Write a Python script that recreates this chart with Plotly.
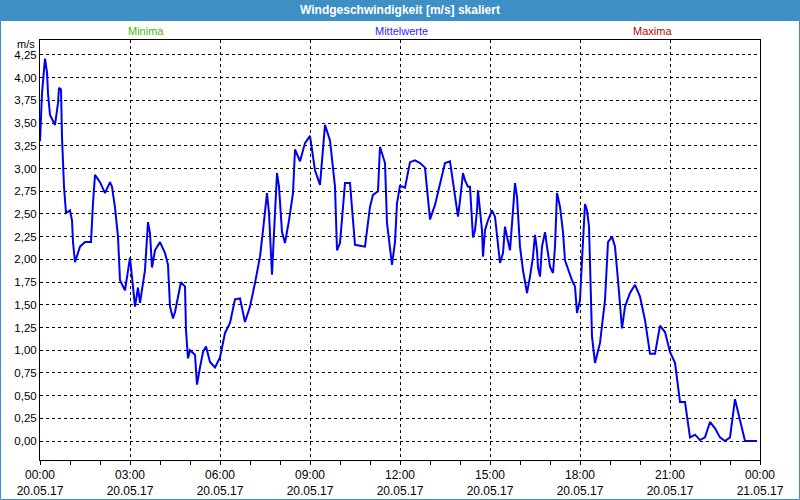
from datetime import datetime, timedelta
import plotly.graph_objects as go

# Windgeschwindigkeit, Mittelwerte am 20.05.17 (Minuten ab 00:00, Wert in m/s)
minutes = [0, 4, 10, 14, 16, 20, 30, 36, 38, 42, 44, 48, 52, 60, 64, 66, 70, 80, 90, 102,
           106, 110, 120, 130, 140, 144, 150, 156, 160, 170, 180, 184, 190, 196, 200, 210,
           216, 220, 224, 230, 240, 250, 256, 260, 266, 270, 282, 290, 292, 296, 300, 310,
           314, 320, 326, 332, 340, 350, 360, 370, 380, 390, 400, 410, 420, 430, 440, 446,
           454, 458, 464, 468, 474, 478, 484, 490, 498, 506, 510, 520, 530, 540, 550, 560,
           570, 580, 590, 594, 600, 610, 620, 630, 640, 650, 660, 666, 676, 680, 690, 694,
           704, 710, 714, 720, 730, 740, 750, 760, 770, 780, 790, 800, 810, 820, 830, 836,
           840, 846, 850, 856, 860, 862, 866, 870, 874, 876, 880, 884, 886, 890, 896, 904,
           910, 914, 920, 926, 930, 934, 940, 946, 950, 954, 960, 966, 974, 980, 986, 990,
           994, 996, 1000, 1004, 1010, 1014, 1020, 1026, 1030, 1034, 1040, 1046, 1050, 1064,
           1070, 1074, 1080, 1084, 1090, 1094, 1098, 1100, 1104, 1110, 1120, 1130, 1136,
           1144, 1150, 1156, 1164, 1170, 1180, 1190, 1200, 1210, 1220, 1230, 1240, 1250,
           1260, 1270, 1280, 1290, 1300, 1310, 1320, 1330, 1340, 1350, 1360, 1370, 1380,
           1390, 1400, 1410, 1434]
speed = [3.30, 3.83, 4.21, 4.06, 3.83, 3.59, 3.48, 3.72, 3.89, 3.87, 3.35, 2.80, 2.51, 2.54,
         2.43, 2.19, 1.97, 2.14, 2.19, 2.19, 2.62, 2.93, 2.85, 2.73, 2.85, 2.80, 2.57, 2.25,
         1.77, 1.66, 2.02, 1.81, 1.48, 1.69, 1.52, 1.88, 2.41, 2.29, 1.91, 2.10, 2.19, 2.07,
         1.94, 1.48, 1.35, 1.42, 1.75, 1.70, 1.22, 0.91, 1.00, 0.95, 0.62, 0.81, 0.98, 1.04,
         0.87, 0.81, 0.92, 1.19, 1.30, 1.56, 1.57, 1.31, 1.48, 1.74, 2.03, 2.32, 2.73, 2.51,
         1.83, 2.29, 2.95, 2.80, 2.30, 2.18, 2.43, 2.73, 3.21, 3.08, 3.28, 3.36, 2.98, 2.82,
         3.48, 3.31, 2.80, 2.10, 2.18, 2.84, 2.84, 2.16, 2.15, 2.14, 2.58, 2.71, 2.75, 3.24,
         3.06, 2.40, 1.94, 2.19, 2.62, 2.81, 2.79, 3.07, 3.09, 3.06, 3.01, 2.44, 2.60, 2.83,
         3.06, 3.08, 2.71, 2.47, 2.65, 2.95, 2.87, 2.80, 2.80, 2.58, 2.24, 2.32, 2.54, 2.76,
         2.54, 2.32, 2.03, 2.32, 2.43, 2.54, 2.47, 2.25, 1.96, 2.07, 2.36, 2.25, 2.10, 2.54,
         2.84, 2.69, 2.14, 1.88, 1.63, 1.81, 2.03, 2.27, 2.10, 1.91, 1.81, 2.14, 2.30, 2.14,
         1.92, 1.85, 2.14, 2.73, 2.58, 2.30, 1.99, 1.77, 1.70, 1.41, 1.55, 1.99, 2.61, 2.54,
         2.36, 1.96, 1.15, 0.86, 1.08, 1.55, 2.19, 2.25, 2.14, 1.77, 1.24, 1.48, 1.63, 1.72,
         1.59, 1.33, 0.96, 0.96, 1.27, 1.20, 0.98, 0.86, 0.43, 0.43, 0.04, 0.07, 0.01, 0.04,
         0.21, 0.14, 0.04, 0.00, 0.04, 0.46, 0.23, 0.00, 0.00]

tick_hours = [0, 3, 6, 9, 12, 15, 18, 21, 24]
y_ticks = [i * 0.25 for i in range(18)]

start = datetime(2017, 5, 20)
times = [start + timedelta(minutes=m) for m in minutes]
tick_vals = [start + timedelta(hours=h) for h in tick_hours]
tick_text = [f"{t:%H:%M}<br>{t:%d.%m.%y}" for t in tick_vals]

W, H = 800, 500
L, R, T, B = 40, 40, 40, 40
pw, ph = W - L - R, H - T - B


def px(x):
    return (x - L) / pw


def py(y):
    return (H - B - y) / ph


font = "Liberation Sans"

fig = go.Figure()
fig.add_trace(go.Scatter(x=times, y=speed, mode="lines",
                         line=dict(color="#0000f0", width=2), hoverinfo="skip"))

fig.update_xaxes(range=[start, start + timedelta(days=1)], automargin=False,
                 tickvals=tick_vals, ticktext=tick_text,
                 ticks="outside", ticklen=4, tickcolor="black",
                 minor=dict(dtick=3600000, ticks="outside", ticklen=4, tickcolor="black", showgrid=False),
                 showgrid=True, gridcolor="black", gridwidth=1, griddash="3px,3px",
                 showline=True, linecolor="black", linewidth=1, mirror=True,
                 tickfont=dict(family=font, size=12, color="black"), zeroline=False)
fig.update_yaxes(range=[-0.209, 4.415], automargin=False, tickvals=y_ticks, tickformat=".2f", ticks="",
                 showgrid=True, gridcolor="black", gridwidth=1, griddash="3px,3px",
                 showline=True, linecolor="black", linewidth=1, mirror=True,
                 tickfont=dict(family=font, size=11.5, color="black"), zeroline=False)

# Titelleiste und Rahmen
fig.add_shape(type="rect", xref="paper", yref="paper", x0=px(0), x1=px(800), y0=py(21), y1=py(0),
              fillcolor="#3d8fc6", line_width=0, layer="below")
fig.add_shape(type="rect", xref="paper", yref="paper", x0=px(0.5), x1=px(799.5), y0=py(499.5), y1=py(0.5),
              line=dict(color="#3d8fc6", width=1))

fig.add_annotation(text="<b>Windgeschwindigkeit [m/s] skaliert</b>", xref="paper", yref="paper",
                   x=px(400), y=py(10), xanchor="center", yanchor="middle", showarrow=False,
                   font=dict(family=font, size=12, color="white"))
for label, xpos, col in [("Minima", 146, "#3cc000"), ("Mittelwerte", 401, "#2a2aff"), ("Maxima", 652, "#c00000")]:
    fig.add_annotation(text=label, xref="paper", yref="paper", x=px(xpos), y=py(31),
                       xanchor="center", yanchor="middle",
                       showarrow=False, font=dict(family=font, size=11, color=col))
fig.add_annotation(text="m/s", xref="paper", yref="paper", x=px(37), y=py(44), xanchor="right",
                   yanchor="middle", showarrow=False, font=dict(family=font, size=11, color="black"))

fig.update_layout(width=W, height=H, margin=dict(l=L, r=R, t=T, b=B),
                  paper_bgcolor="white", plot_bgcolor="white", showlegend=False,
                  separators=",.")
fig.write_html("out.html", config={"displayModeBar": False},
               post_script="document.body.style.margin='0';document.body.style.overflow='hidden';")
